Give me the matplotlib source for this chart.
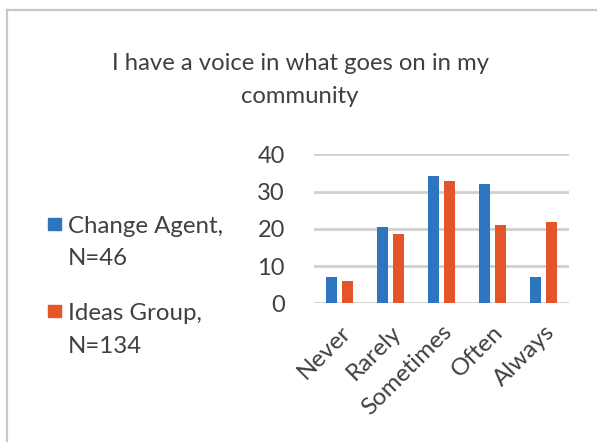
import numpy as np
import matplotlib
matplotlib.use("Agg")
import matplotlib.pyplot as plt
from matplotlib.patches import Rectangle
from matplotlib.lines import Line2D

categories = ["Never", "Rarely", "Sometimes", "Often", "Always"]
series_names = ["Change Agent,\nN=46", "Ideas Group,\nN=134"]
change_agent = [7.0, 20.6, 34.3, 32.0, 7.0]
ideas_group = [6.1, 18.6, 32.8, 20.9, 21.8]
y_ticks = [0, 10, 20, 30, 40]

BLUE = "#2e75c0"
ORANGE = "#e5552a"
TEXT = "#404040"
FONT = "Lato"

W, H = 597, 442
fig = plt.figure(figsize=(W / 100, H / 100), dpi=100)
fig.patch.set_facecolor("white")

# chart frame (left and top edges visible)
fig.add_artist(Line2D([7 / W, 7 / W], [0, 1 - 10 / H], transform=fig.transFigure,
                      color="#c8c8c8", lw=1.6))
fig.add_artist(Line2D([7 / W, 1], [1 - 10 / H, 1 - 10 / H], transform=fig.transFigure,
                      color="#c8c8c8", lw=1.6))

ax = fig.add_axes([314 / W, 1 - 303.3 / H, 255 / W, 149 / H])
x = np.arange(len(categories))
bw = 0.215
ax.bar(x - bw / 2 - 0.04, change_agent, bw, color=BLUE, zorder=3)
ax.bar(x + bw / 2 + 0.04, ideas_group, bw, color=ORANGE, zorder=3)

ax.set_xlim(-0.5, len(categories) - 0.5)
ax.set_ylim(0, 40)
ax.set_yticks(y_ticks)
ax.yaxis.grid(True, color="#d0d0d0", lw=2.0, zorder=0)
ax.set_axisbelow(True)
for s in ["top", "right", "left", "bottom"]:
    ax.spines[s].set_visible(False)
ax.tick_params(axis="both", length=0, colors=TEXT, labelsize=17)
ax.tick_params(axis="y", pad=21)
for lab in ax.get_yticklabels():
    lab.set_fontfamily(FONT)
ax.set_xticks(x)
ax.set_xticklabels(categories, rotation=45, ha="right", rotation_mode="anchor",
                   fontsize=17.5, family=FONT, color=TEXT)
ax.tick_params(axis="x", pad=13)

fig.text(300 / W, 1 - 80 / H, "I have a voice in what goes on in my\ncommunity",
         ha="center", va="center", fontsize=17.2, family=FONT, color=TEXT,
         linespacing=1.75)

# legend
baselines = [(233, 265), (320, 353)]
for i, (name, col) in enumerate(zip(series_names, [BLUE, ORANGE])):
    y_top = [218, 305][i]
    fig.add_artist(Rectangle((48 / W, 1 - (y_top + 12) / H), 13 / W, 12 / H,
                             transform=fig.transFigure, color=col))
    for line, yb in zip(name.split("\n"), baselines[i]):
        fig.text(68 / W, 1 - yb / H, line, ha="left", va="baseline",
                 fontsize=17.3, family=FONT, color=TEXT)

fig.savefig("out.png", dpi=100)
